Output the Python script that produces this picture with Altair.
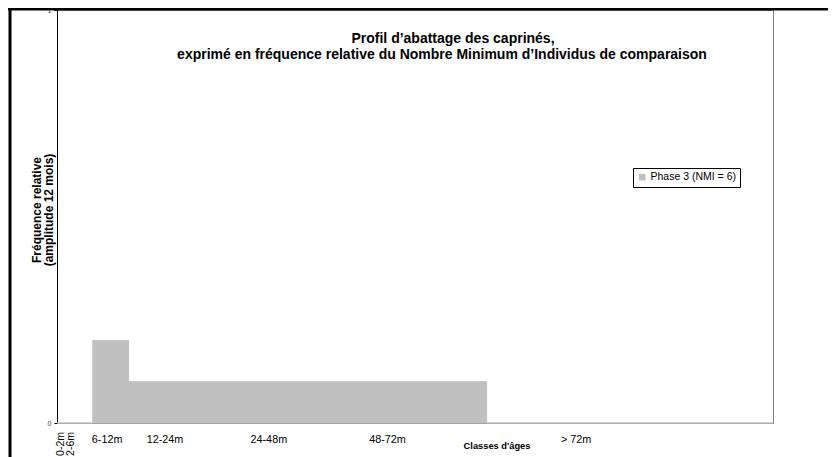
import altair as alt
import pandas as pd

# Age classes (months) and relative frequency
age_start = [0, 2, 6, 12, 24, 48, 72]
age_end = [2, 6, 12, 24, 48, 72, 120]
freq = [0, 0, 0.2, 0.1, 0.1, 0.1, 0]
series = "Phase 3 (NMI = 6)"

# Category labels under the axis (month position of label centre)
lab_text = ["6-12m", "12-24m", "24-48m", "48-72m", "> 72m"]
lab_pos = [8.4, 18.1, 35.5, 55.4, 87.0]
rot_text = ["0-2m", "2-6m"]
rot_pos = [0.7, 2.4]

title_1 = "Profil d\u2019abattage des caprinés,"
title_2 = "exprimé en fréquence relative du Nombre Minimum d\u2019Individus de comparaison"

FONT = "Liberation Sans"
W, H = 716, 413

bars_df = pd.DataFrame({"start": age_start, "end": age_end, "freq": freq,
                        "phase": [series] * len(freq)})
lab_df = pd.DataFrame({"t": lab_text, "m": lab_pos})
rot_df = pd.DataFrame({"t": rot_text, "m": rot_pos})

xs = alt.Scale(domain=[0, 120], nice=False, zero=False)
ys = alt.Scale(domain=[0, 1], nice=False)

bars = alt.Chart(bars_df).mark_rect(color="#c0c0c0", stroke="#c0c0c0",
                                    strokeWidth=1).encode(
    x=alt.X("start:Q", scale=xs,
            axis=alt.Axis(labels=False, ticks=False, title=None, grid=False,
                          domainColor="#808080", domainWidth=1)),
    x2="end:Q",
    y=alt.Y("freq:Q", scale=ys,
            axis=alt.Axis(values=[0, 1], format="d", grid=False, title=None,
                          domainColor="#000000", tickColor="#000000",
                          tickSize=3, labelFontSize=7, labelColor="#444444",
                          labelFont=FONT, labelPadding=3, labelFlush=False)),
    y2=alt.datum(0),
    color=alt.Color("phase:N", scale=alt.Scale(range=["#c0c0c0"]),
                    legend=alt.Legend(title=None, orient="none",
                                      legendX=576, legendY=158,
                                      strokeColor="#000000", fillColor="#ffffff",
                                      padding=4, symbolType="square",
                                      symbolSize=42, symbolStrokeWidth=0,
                                      labelFont=FONT, labelFontSize=10.5,
                                      labelColor="#000000", labelOffset=3)),
)

labels = alt.Chart(lab_df).mark_text(font=FONT, fontSize=10.8, color="#000000",
                                     align="center", baseline="middle").encode(
    x=alt.X("m:Q", scale=xs), y=alt.value(430), text="t:N")

rot_labels = alt.Chart(rot_df).mark_text(font=FONT, fontSize=10.5, color="#000000",
                                         angle=270, align="right",
                                         baseline="middle").encode(
    x=alt.X("m:Q", scale=xs), y=alt.value(422), text="t:N")

xtitle = alt.Chart(pd.DataFrame({"t": ["Classes d'âges"]})).mark_text(
    font=FONT, fontSize=9.3, fontWeight="bold", color="#000000",
    align="center", baseline="middle").encode(
    x=alt.value(440), y=alt.value(436), text="t:N")

ytitle = alt.Chart(pd.DataFrame({"t": ["Fréquence relative", "(amplitude 12 mois)"],
                                 "xx": [-20, -8]})).mark_text(
    font=FONT, fontSize=12, fontWeight="bold", color="#000000", angle=270,
    align="center", baseline="middle").encode(
    x=alt.X("xx:Q", scale=None), y=alt.value(200), text="t:N")

t1 = alt.Chart(pd.DataFrame({"t": [title_1]})).mark_text(
    font=FONT, fontSize=14, fontWeight="bold", color="#000000",
    align="center", baseline="middle").encode(
    x=alt.value(396), y=alt.value(29), text="t:N")
t2 = alt.Chart(pd.DataFrame({"t": [title_2]})).mark_text(
    font=FONT, fontSize=14, fontWeight="bold", color="#000000",
    align="center", baseline="middle").encode(
    x=alt.value(385), y=alt.value(45), text="t:N")

frame_top = alt.Chart().mark_rule(color="#000000", strokeWidth=3).encode(
    x=alt.value(-49), x2=alt.value(790), y=alt.value(-1))
frame_left = alt.Chart().mark_rule(color="#000000", strokeWidth=3).encode(
    x=alt.value(-47), y=alt.value(-2), y2=alt.value(460))

chart = alt.layer(bars, labels, rot_labels, xtitle, ytitle, t1, t2,
                  frame_top, frame_left).properties(
    width=W, height=H,
    autosize=alt.AutoSizeParams(type="none"),
    padding={"left": 49, "top": 2, "right": 55, "bottom": 34},
    background="#ffffff",
).configure_view(stroke="#808080", strokeWidth=1)

chart.save("out.html", embed_options={"renderer": "svg", "actions": False})
